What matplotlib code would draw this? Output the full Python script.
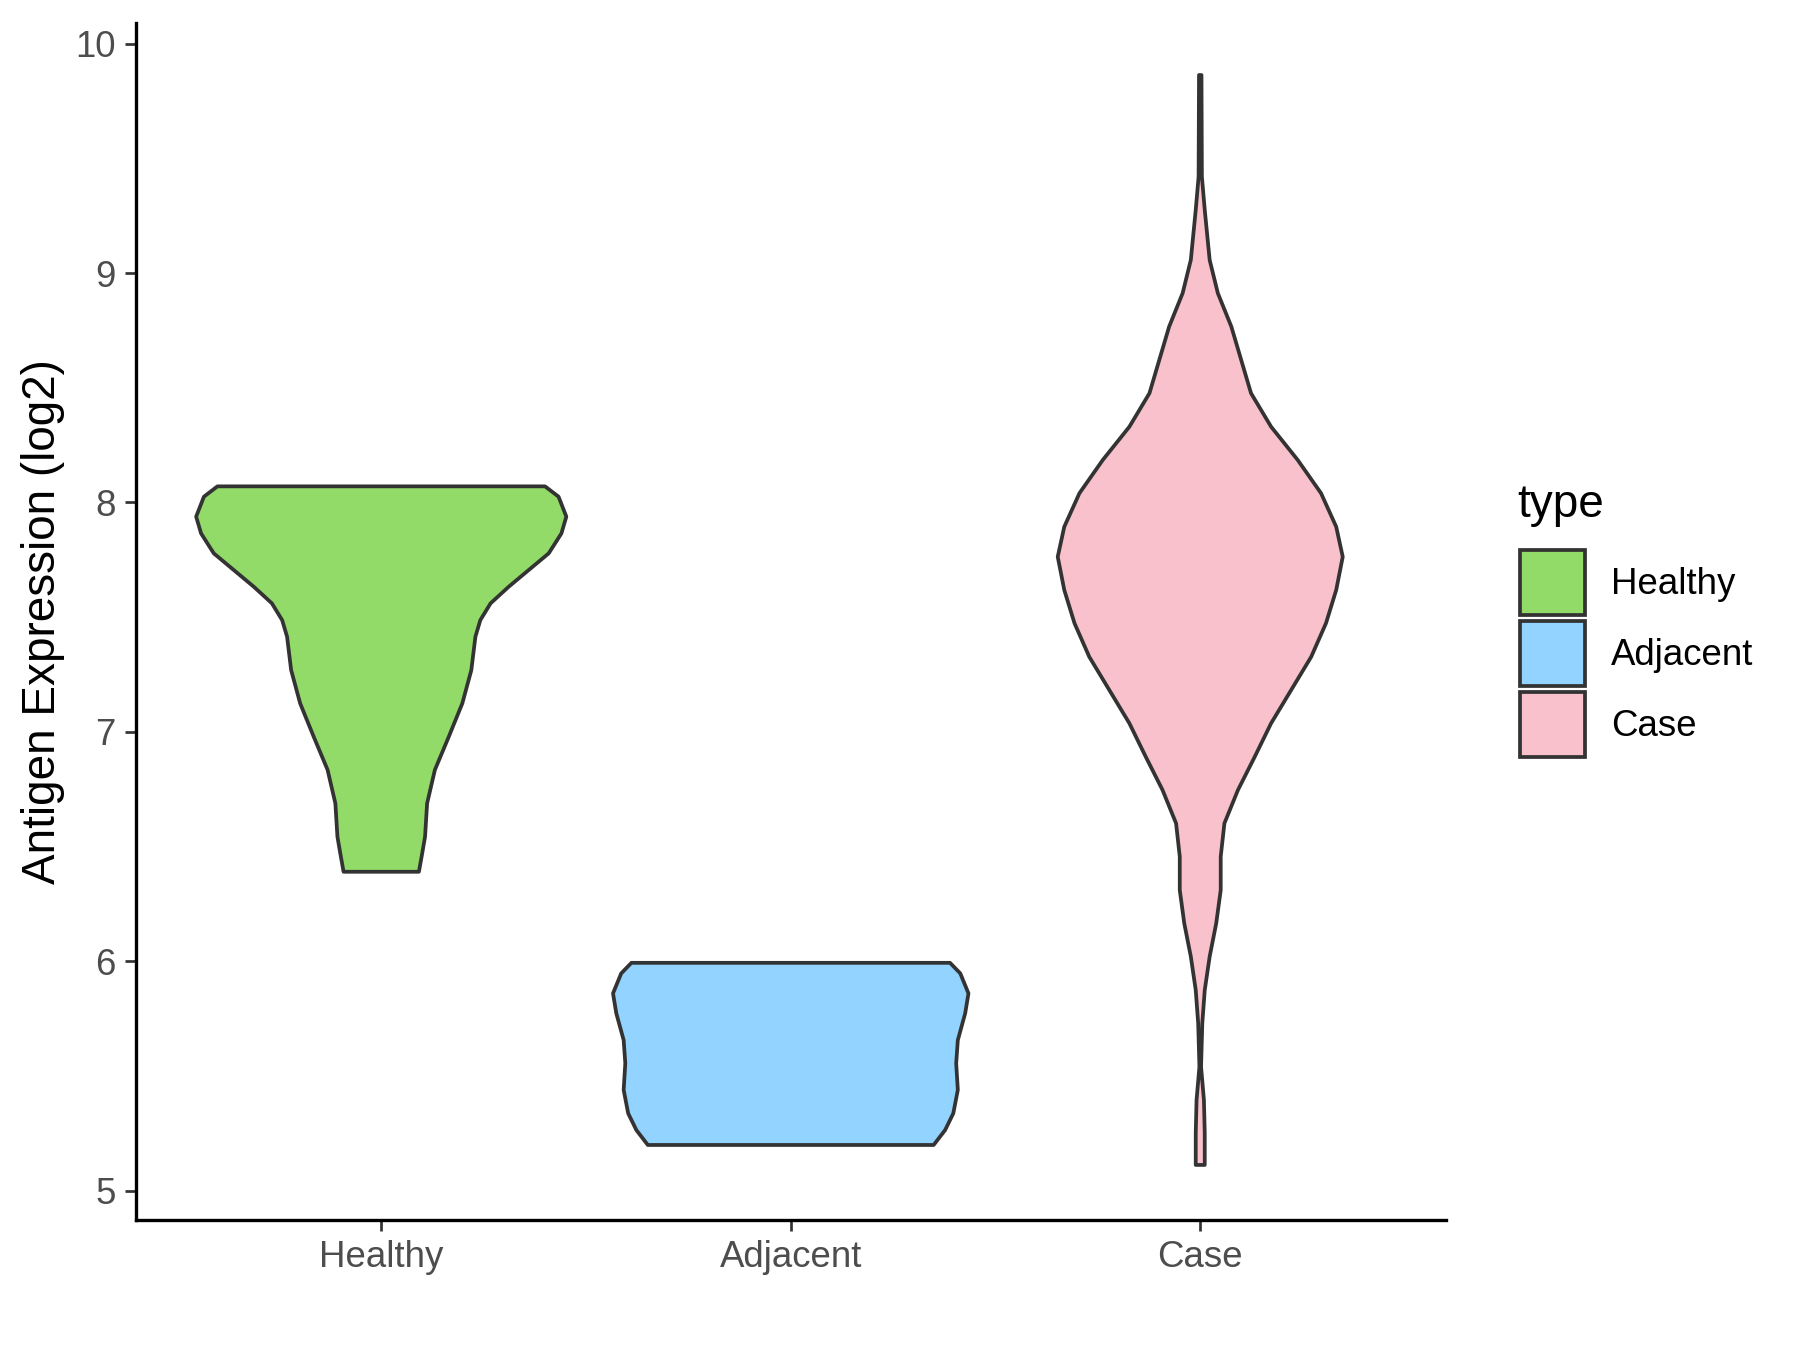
import matplotlib.pyplot as plt
from matplotlib.patches import Patch
import numpy as np

plt.rcParams['font.family'] = ['Liberation Sans', 'DejaVu Sans']

groups = ["Healthy", "Adjacent", "Case"]
colors = ["#93DB69", "#92D3FF", "#F8C1CB"]

# violin outlines: expression level and half width (category units)
healthy_y = [8.07, 8.025, 7.938, 7.865, 7.778, 7.705, 7.632, 7.56, 7.487, 7.415,
             7.269, 7.124, 6.979, 6.834, 6.688, 6.543, 6.47, 6.39]
healthy_w = [0.40, 0.433, 0.452, 0.440, 0.409, 0.360, 0.311, 0.267, 0.242, 0.230,
             0.220, 0.198, 0.165, 0.131, 0.112, 0.107, 0.100, 0.092]

adjacent_y = [5.993, 5.947, 5.86, 5.773, 5.656, 5.555, 5.439, 5.337, 5.264, 5.199]
adjacent_w = [0.389, 0.414, 0.434, 0.426, 0.408, 0.404, 0.408, 0.397, 0.377, 0.349]

case_y = [9.863, 9.42, 9.275, 9.057, 8.912, 8.766, 8.621, 8.476, 8.33, 8.185,
          8.04, 7.894, 7.763, 7.618, 7.473, 7.327, 7.182, 7.037, 6.891, 6.746,
          6.601, 6.456, 6.31, 6.165, 6.02, 5.874, 5.729, 5.54, 5.395, 5.25, 5.112]
case_w = [0.003, 0.004, 0.011, 0.023, 0.043, 0.076, 0.100, 0.124, 0.173, 0.238,
          0.295, 0.332, 0.348, 0.332, 0.307, 0.271, 0.222, 0.173, 0.133, 0.092,
          0.059, 0.050, 0.050, 0.039, 0.023, 0.011, 0.005, 0.002, 0.009, 0.011, 0.011]

y_ticks = [5, 6, 7, 8, 9, 10]


def main():
    profiles = [(healthy_y, healthy_w), (adjacent_y, adjacent_w), (case_y, case_w)]

    fig = plt.figure(figsize=(12, 9), dpi=150)
    ax = fig.add_axes([0.0753, 0.0963, 0.728, 0.8867])

    for i, (yy, ww) in enumerate(profiles):
        pos = i + 1
        yy = np.array(yy)
        ww = np.array(ww)
        xs = np.concatenate([pos + ww, (pos - ww)[::-1]])
        ys = np.concatenate([yy, yy[::-1]])
        ax.fill(xs, ys, facecolor=colors[i], edgecolor="#333333", linewidth=1.8,
                joinstyle="round")

    ax.set_xlim(0.4, 3.6)
    ax.set_ylim(4.872, 10.09)
    ax.set_xticks([1, 2, 3])
    ax.set_xticklabels(groups)
    ax.set_yticks(y_ticks)
    ax.set_ylabel("Antigen Expression (log2)", fontsize=22, color="black", labelpad=5)

    for side in ["top", "right"]:
        ax.spines[side].set_visible(False)
    for side in ["left", "bottom"]:
        ax.spines[side].set_linewidth(1.6)
        ax.spines[side].set_color("black")
    ax.tick_params(axis="both", length=5.5, width=1.3, color="#333333",
                   labelsize=17.6, labelcolor="#4D4D4D", pad=4)

    # legend keys, title placed on its own like ggplot
    handles = [Patch(facecolor=c, edgecolor="#333333", linewidth=1.8) for c in colors]
    fig.legend(handles, groups, loc="upper left",
               bbox_to_anchor=(0.834, 0.606), frameon=False,
               fontsize=17.6, handlelength=1.78, handleheight=2.36,
               labelspacing=0.15, handletextpad=0.72, borderpad=0)
    fig.text(0.843, 0.626, "type", fontsize=22, ha="left", va="center")

    fig.savefig("out.png", dpi=150)
    plt.close()


if __name__ == '__main__':
    main()
